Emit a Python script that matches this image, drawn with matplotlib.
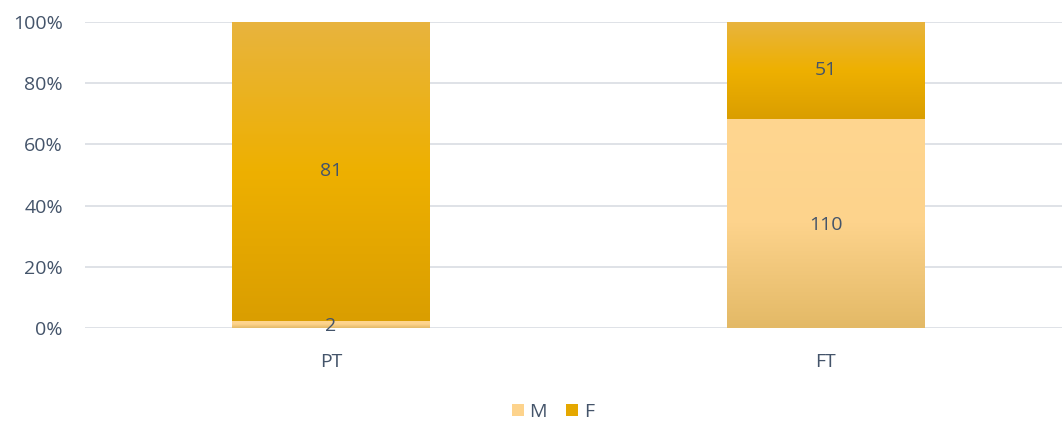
import numpy as np
import matplotlib.pyplot as plt
from matplotlib.patches import Rectangle
from matplotlib.colors import LinearSegmentedColormap

categories = ["PT", "FT"]
series_names = ["M", "F"]
m_values = [2, 110]
f_values = [81, 51]
ytick_labels = ["0%", "20%", "40%", "60%", "80%", "100%"]

plt.rcParams['font.family'] = ['Open Sans', 'DejaVu Sans']
text_color = "#44546A"

fig = plt.figure(figsize=(10.64, 4.23), dpi=100)
ax = fig.add_axes([85/1064, (423-328)/423, (1062-85)/1064, (328-22)/423])

x = np.arange(len(categories))
width = 0.4
totals = np.array(m_values) + np.array(f_values)
m_pct = np.array(m_values) / totals * 100
f_pct = np.array(f_values) / totals * 100

cmap_m = LinearSegmentedColormap.from_list("m", ["#E3B966", "#FDD38C", "#FFD690"], N=1024)
cmap_f = LinearSegmentedColormap.from_list("f", ["#DA9E00", "#EEB000", "#E8B43E"], N=1024)
grad = np.linspace(0, 1, 1024).reshape(-1, 1)

def grad_bar(xc, bottom, height, cmap):
    rect = Rectangle((xc - width/2, bottom), width, height, facecolor="none", edgecolor="none")
    ax.add_patch(rect)
    im = ax.imshow(grad, aspect="auto", cmap=cmap, origin="lower", interpolation="bilinear",
                   extent=(xc - width/2, xc + width/2, bottom, bottom + height), zorder=2)
    im.set_clip_path(rect)

for i in range(len(categories)):
    grad_bar(x[i], 0, m_pct[i], cmap_m)
    grad_bar(x[i], m_pct[i], f_pct[i], cmap_f)
    ax.text(x[i], m_pct[i]/2 - 0.6, str(m_values[i]), ha="center", va="center",
            fontsize=14, color=text_color, zorder=3)
    ax.text(x[i], m_pct[i] + f_pct[i]/2, str(f_values[i]), ha="center", va="center",
            fontsize=14, color=text_color, zorder=3)

ax.set_xlim(-0.497, 1.477)
ax.set_ylim(0, 100)
ax.set_yticks(np.arange(0, 101, 20))
ax.set_yticklabels(ytick_labels)
ax.set_xticks(x)
ax.set_xticklabels(categories)
ax.tick_params(axis="both", length=0, labelsize=14, labelcolor=text_color)
ax.tick_params(axis="y", pad=16)
ax.tick_params(axis="x", pad=18)
ax.grid(axis="y", color="#D9DDE3", linewidth=1.2, zorder=0)
ax.set_axisbelow(True)
for s in ax.spines.values():
    s.set_visible(False)

handles = [Rectangle((0, 0), 1, 1, facecolor="#FDD38C"), Rectangle((0, 0), 1, 1, facecolor="#E5A800")]
fig.legend(handles, series_names, loc="center", bbox_to_anchor=(553/1064, 1 - 412/423), ncol=2,
           frameon=False, fontsize=14, labelcolor=text_color, handlelength=0.6, handleheight=0.6,
           handletextpad=0.3, columnspacing=1.0)

fig.savefig("out.png", dpi=100)
